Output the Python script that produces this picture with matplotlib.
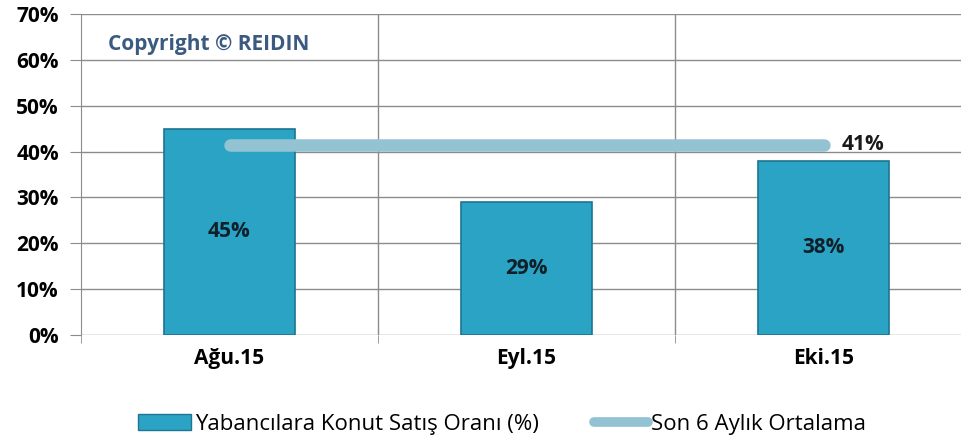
import numpy as np
import matplotlib.pyplot as plt
from matplotlib.lines import Line2D
from matplotlib.patches import Patch

plt.rcParams['font.family'] = ['Open Sans', 'DejaVu Sans']

# data
months = ['Ağu.15', 'Eyl.15', 'Eki.15']
ratio = [45, 29, 38]
avg6 = [41, 41, 41]
yticks = [0, 10, 20, 30, 40, 50, 60, 70]

bar_col = '#2ba3c4'
line_col = '#93c3d3'
grid_col = '#8c8c8c'

fig = plt.figure(figsize=(9.61, 4.44), dpi=100)
# plot area runs a bit past the right edge of the picture
ax = fig.add_axes([81 / 961, 109 / 444, 891 / 961, 321 / 444])

x = np.arange(len(months))
ax.bar(x, ratio, width=0.44, color=bar_col, edgecolor='#1d7590', linewidth=1.2, zorder=2)
ax.plot(x, [a + 0.5 for a in avg6], color=line_col, linewidth=9, solid_capstyle='round', zorder=3)

for xi, v in zip(x, ratio):
    ax.text(xi, v / 2, f'{v}%', ha='center', va='center', fontsize=15,
            fontweight='bold', color='#10202a', zorder=4)
ax.text(x[-1] + 0.06, avg6[-1] + 0.5, f'{avg6[-1]}%', ha='left', va='center',
        fontsize=15, fontweight='bold', color='#1a1a1a', zorder=4)

ax.text(0.03, 0.905, 'Copyright © REIDIN', transform=ax.transAxes, fontsize=15,
        fontweight='bold', color='#3b5a80', ha='left', va='center')

ax.set_xlim(-0.5, 2.5)
ax.set_ylim(0, 70)
ax.set_yticks(yticks)
ax.set_yticklabels([f'{t}%' for t in yticks], fontsize=15, fontweight='bold')
ax.set_xticks(x)
ax.set_xticklabels(months, fontsize=15, fontweight='bold')
ax.set_xticks([-0.5, 0.5, 1.5, 2.5], minor=True)
ax.tick_params(axis='x', which='major', length=0, pad=9)
ax.tick_params(axis='x', which='minor', length=6, color=grid_col)
ax.tick_params(axis='y', length=8, color=grid_col, pad=8)

for t in yticks:
    ax.axhline(t, color=grid_col, linewidth=1, zorder=1)
for b in [0.5, 1.5]:
    ax.axvline(b, color=grid_col, linewidth=1, zorder=1)
for s in ['top', 'right', 'bottom']:
    ax.spines[s].set_visible(False)
ax.spines['left'].set_color(grid_col)

handles = [Patch(facecolor=bar_col, edgecolor='#1d7590'),
           Line2D([0], [0], color=line_col, linewidth=7, solid_capstyle='round')]
fig.legend(handles, ['Yabancılara Konut Satış Oranı (%)', 'Son 6 Aylık Ortalama'],
           loc='center', bbox_to_anchor=(502 / 961, 0.045), ncol=2, frameon=False,
           fontsize=16, handlelength=2.4, handletextpad=0.15, columnspacing=2.5)

fig.savefig('out.png', dpi=100)
